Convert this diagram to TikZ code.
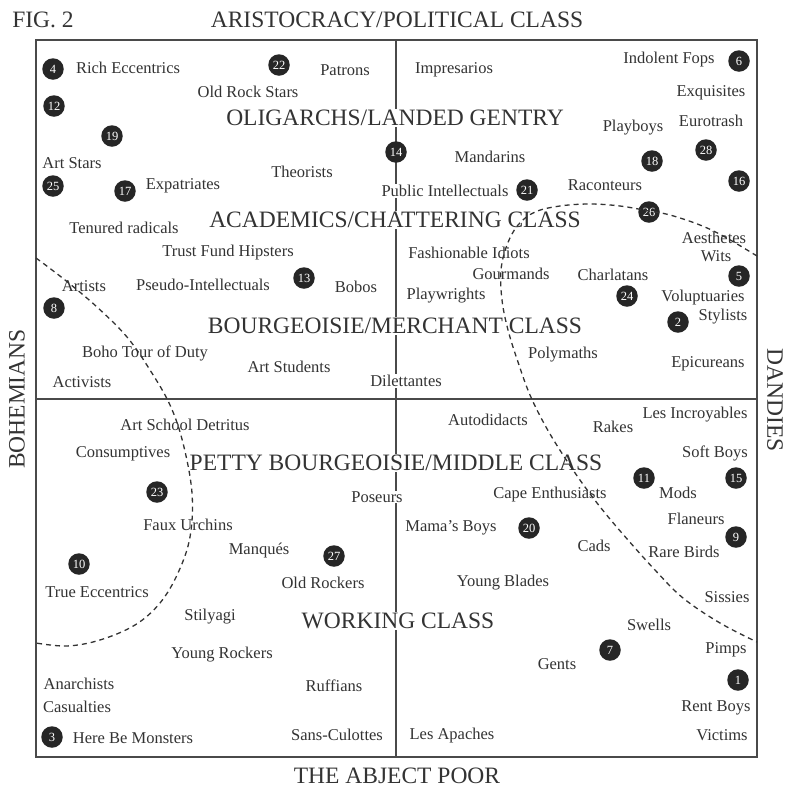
\documentclass[tikz,border=0pt]{standalone}
\usepackage{fontspec}
\setmainfont{Liberation Serif}
\definecolor{ink}{HTML}{333333}
\definecolor{dot}{HTML}{262626}
\definecolor{rule}{HTML}{4A4A4A}
\begin{document}
\begin{tikzpicture}[x=1pt,y=-1pt,
  lbl/.style={font=\fontsize{16.5}{18}\selectfont, text=ink, fill=white, inner sep=1pt},
  big/.style={font=\fontsize{23.5}{26}\selectfont, text=ink, fill=white, inner sep=1pt},
  num/.style={circle, fill=dot, text=white, minimum size=21.5pt, inner sep=0pt, font=\fontsize{12.5}{12.5}\selectfont},
  framestyle/.style={draw=rule, line width=1.3pt},
  axisline/.style={draw=rule, line width=1.2pt},
  boundary/.style={draw=ink, line width=1.3pt, dash pattern=on 5pt off 4pt}]
\useasboundingbox (0,0) rectangle (787,788);
% frame and axes
\coordinate (TL) at (36,40);
\coordinate (BR) at (757,757);
\coordinate (Tm) at (396,40);
\coordinate (Bm) at (396,757);
\coordinate (Lm) at (36,399);
\coordinate (Rm) at (757,399);
\draw[framestyle] (TL) rectangle (BR);
\draw[axisline] (Tm) -- (Bm);
\draw[axisline] (Lm) -- (Rm);
% outer labels
\node[big, fill=none] (fig) at (43,20) {FIG. 2};
\node[big, fill=none] (top) at (397,20) {ARISTOCRACY/POLITICAL CLASS};
\node[big, fill=none] (bot) at (397,776) {THE ABJECT POOR};
\node[big, fill=none, rotate=90] (boh) at (17,399) {BOHEMIANS};
\node[big, fill=none, rotate=-90] (dan) at (775,400) {DANDIES};
% class labels
\node[big] (c1) at (395,118) {OLIGARCHS/LANDED GENTRY};
\node[big] (c2) at (395,220) {ACADEMICS/CHATTERING CLASS};
\node[big] (c3) at (395,326) {BOURGEOISIE/MERCHANT CLASS};
\node[big] (c4) at (396,463) {PETTY BOURGEOISIE/MIDDLE CLASS};
\node[big] (c5) at (398,621) {WORKING CLASS};
% top-left
\node[lbl] (t1) at (128,68) {Rich Eccentrics};
\node[lbl] (t2) at (345,70) {Patrons};
\node[lbl] (t3) at (248,92) {Old Rock Stars};
\node[lbl] (t4) at (72,163) {Art Stars};
\node[lbl] (t5) at (183,186) {Expatriates};
\node[lbl] (t6) at (302,172) {Theorists};
\node[lbl] (t7) at (124,228) {Tenured radicals};
\node[lbl] (t8) at (228,253) {Trust Fund Hipsters};
\node[lbl] (t9) at (84,286) {Artists};
\node[lbl] (t10) at (203,285) {Pseudo-Intellectuals};
\node[lbl] (t11) at (356,287) {Bobos};
\node[lbl] (t12) at (145,353) {Boho Tour of Duty};
\node[lbl] (t13) at (289,367) {Art Students};
\node[lbl] (t14) at (82,382) {Activists};
\node[lbl] (t15) at (406,381) {Dilettantes};
% top-right
\node[lbl] (r1) at (454,70) {Impresarios};
\node[lbl] (r2) at (669,60) {Indolent Fops};
\node[lbl] (r3) at (711,93) {Exquisites};
\node[lbl] (r4) at (711,121) {Eurotrash};
\node[lbl] (r5) at (633,128) {Playboys};
\node[lbl] (r6) at (490,157) {Mandarins};
\node[lbl] (r7) at (445,191) {Public Intellectuals};
\node[lbl] (r8) at (605,185) {Raconteurs};
\node[lbl] (r9) at (714,238) {Aesthetes};
\node[lbl] (r10) at (716,256) {Wits};
\node[lbl] (r11) at (469,253) {Fashionable Idiots};
\node[lbl] (r12) at (511,274) {Gourmands};
\node[lbl] (r13) at (613,275) {Charlatans};
\node[lbl] (r14) at (446,296) {Playwrights};
\node[lbl] (r15) at (703,298) {Voluptuaries};
\node[lbl] (r16) at (723,317) {Stylists};
\node[lbl] (r17) at (563,355) {Polymaths};
\node[lbl] (r18) at (708,364) {Epicureans};
% bottom-left
\node[lbl] (b1) at (185,425) {Art School Detritus};
\node[lbl] (b2) at (123,454) {Consumptives};
\node[lbl] (b3) at (188,525) {Faux Urchins};
\node[lbl] (b4) at (377,497) {Poseurs};
\node[lbl] (b5) at (259,551) {Manqués};
\node[lbl] (b6) at (97,592) {True Eccentrics};
\node[lbl] (b7) at (323,583) {Old Rockers};
\node[lbl] (b8) at (210,617) {Stilyagi};
\node[lbl] (b9) at (222,655) {Young Rockers};
\node[lbl] (b10) at (334,686) {Ruffians};
\node[lbl] (b11) at (79,684) {Anarchists};
\node[lbl] (b12) at (77,707) {Casualties};
\node[lbl] (b13) at (133,738) {Here Be Monsters};
\node[lbl] (b14) at (337,735) {Sans-Culottes};
% bottom-right
\node[lbl] (d1) at (488,420) {Autodidacts};
\node[lbl] (d2) at (613,427) {Rakes};
\node[lbl] (d3) at (695,415) {Les Incroyables};
\node[lbl] (d4) at (715,453) {Soft Boys};
\node[lbl] (d5) at (678,493) {Mods};
\node[lbl] (d6) at (550,495) {Cape Enthusiasts};
\node[lbl] (d7) at (451,528) {Mama’s Boys};
\node[lbl] (d8) at (696,519) {Flaneurs};
\node[lbl] (d9) at (594,546) {Cads};
\node[lbl] (d10) at (684,552) {Rare Birds};
\node[lbl] (d11) at (503,583) {Young Blades};
\node[lbl] (d12) at (727,597) {Sissies};
\node[lbl] (d13) at (649,625) {Swells};
\node[lbl] (d14) at (557,664) {Gents};
\node[lbl] (d15) at (726,650) {Pimps};
\node[lbl] (d16) at (716,708) {Rent Boys};
\node[lbl] (d17) at (722,735) {Victims};
\node[lbl] (d18) at (452,736) {Les Apaches};
% numbered dots
\node[num] (n1) at (738,680) {1};
\node[num] (n2) at (678,322) {2};
\node[num] (n3) at (52,737) {3};
\node[num] (n4) at (53,69) {4};
\node[num] (n5) at (739,276) {5};
\node[num] (n6) at (739,61) {6};
\node[num] (n7) at (610,650) {7};
\node[num] (n8) at (54,308) {8};
\node[num] (n9) at (736,537) {9};
\node[num] (n10) at (79,564) {10};
\node[num] (n11) at (644,478) {11};
\node[num] (n12) at (54,106) {12};
\node[num] (n13) at (304,278) {13};
\node[num] (n14) at (396,152) {14};
\node[num] (n15) at (736,478) {15};
\node[num] (n16) at (739,181) {16};
\node[num] (n17) at (125,191) {17};
\node[num] (n18) at (652,161) {18};
\node[num] (n19) at (112,136) {19};
\node[num] (n20) at (529,528) {20};
\node[num] (n21) at (527,190) {21};
\node[num] (n22) at (279,65) {22};
\node[num] (n23) at (157,492) {23};
\node[num] (n24) at (627,296) {24};
\node[num] (n25) at (53,186) {25};
\node[num] (n26) at (649,212) {26};
\node[num] (n27) at (334,556) {27};
\node[num] (n28) at (706,150) {28};
% dashed boundaries
\draw[boundary] plot[smooth, tension=0.6] coordinates {(36,258) (65,280) (97,307) (127,337) (150,370) (170,405) (183,443) (192,493) (190,537) (178,573) (160,603) (135,625) (100,640) (67,646) (36,643)};
\draw[boundary] plot[smooth, tension=0.6] coordinates {(757,256) (725,237) (700,225) (670,215) (649,211) (620,206) (590,204) (560,206) (535,212) (518,225) (507,245) (501,270) (502,300) (508,330) (518,362) (530,395) (546,427) (565,458) (585,487) (605,513) (628,540) (655,570) (683,598) (720,623) (757,642)};
\end{tikzpicture}
\end{document}
